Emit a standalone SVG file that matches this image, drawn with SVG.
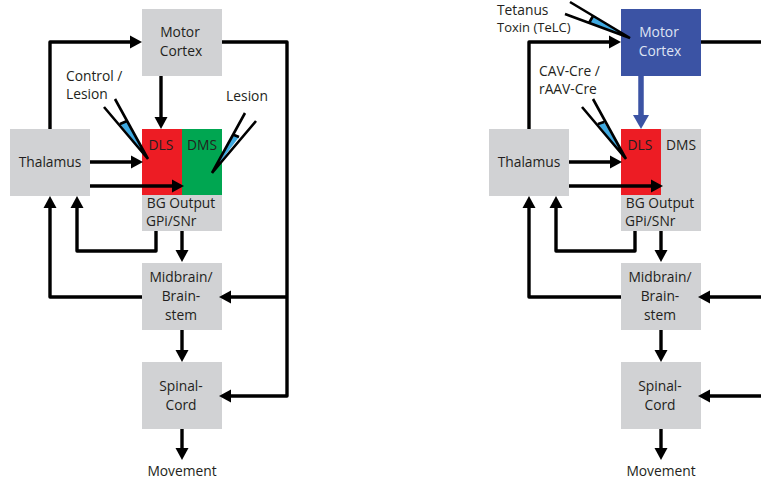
<svg xmlns="http://www.w3.org/2000/svg" width="761" height="480" viewBox="0 0 761 480">
<style>
text{font-family:"Open Sans","Noto Sans","Liberation Sans",sans-serif;font-size:13.8px;fill:#231f20;text-anchor:middle}
.l{text-anchor:start}
.box{fill:#d1d2d4}
.c{fill:none;stroke:#000;stroke-width:3.4;stroke-linejoin:round}
.a{fill:#000}
.n{fill:none;stroke:#000;stroke-width:2.6}
.b{fill:#3fa9e0}
</style>
<defs>
<path id="R" class="a" d="M0 0L-12 -6.5V6.5Z"/>
<path id="L" class="a" d="M0 0L12 -6.5V6.5Z"/>
<path id="U" class="a" d="M0 0L-6.5 12H6.5Z"/>
<path id="D" class="a" d="M0 0L-6.5 -12H6.5Z"/>
</defs>
<rect width="761" height="480" fill="#fff"/>
<g id="left-motor-cortex"><rect class="box" x="142" y="9" width="80" height="67"/><text x="180" y="37">Motor</text><text x="181" y="56">Cortex</text></g>
<g id="left-thalamus"><rect class="box" x="10" y="129" width="80" height="67"/><text x="50" y="167">Thalamus</text></g>
<g id="left-bg"><rect class="box" x="142" y="195" width="80" height="36"/><text x="181" y="208">BG Output</text><text class="l" x="146" y="226">GPi/SNr</text></g>
<g id="left-dls"><rect x="142" y="129" width="40" height="66" fill="#ed1c24"/><text x="161" y="150">DLS</text></g>
<g id="left-dms"><rect x="182" y="129" width="40" height="66" fill="#00a651"/><text x="202" y="150">DMS</text></g>
<g id="left-midbrain"><rect class="box" x="142" y="263" width="80" height="67"/><text x="181" y="282">Midbrain/</text><text x="181" y="301">Brain-</text><text x="181" y="320">stem</text></g>
<g id="left-spinal"><rect class="box" x="142" y="362" width="80" height="67"/><text x="181" y="391">Spinal-</text><text x="181" y="410">Cord</text></g>
<g id="left-movement"><text x="182" y="475.5">Movement</text></g>
<g id="left-control-lesion"><text class="l" x="66" y="81">Control /</text><text class="l" x="66" y="99">Lesion</text>
<path class="b" d="M120 124L127 121L148 159Z"/><path class="n" d="M104 107L148 159L115 99M120 124L127 121"/></g>
<g id="left-lesion"><text x="247" y="101">Lesion</text>
<path class="b" d="M234 135L239 137L212 173Z"/><path class="n" d="M245 113L212 173L256 121M234 135L239 137"/></g>

<g id="right-motor-cortex"><rect x="621" y="9" width="80" height="67" fill="#3b53a4"/><text x="659" y="37" style="fill:#dfe4f3">Motor</text><text x="660" y="56" style="fill:#dfe4f3">Cortex</text></g>
<g id="right-thalamus"><rect class="box" x="489" y="129" width="80" height="67"/><text x="529" y="167">Thalamus</text></g>
<g id="right-bg-dms"><rect class="box" x="621" y="129" width="80" height="102"/><text x="681" y="150">DMS</text><text x="660" y="208">BG Output</text><text class="l" x="625" y="226">GPi/SNr</text></g>
<g id="right-dls"><rect x="621" y="129" width="40" height="66" fill="#ed1c24"/><text x="640" y="150">DLS</text></g>
<g id="right-midbrain"><rect class="box" x="621" y="263" width="80" height="67"/><text x="660" y="282">Midbrain/</text><text x="660" y="301">Brain-</text><text x="660" y="320">stem</text></g>
<g id="right-spinal"><rect class="box" x="621" y="362" width="80" height="67"/><text x="660" y="391">Spinal-</text><text x="660" y="410">Cord</text></g>
<g id="right-movement"><text x="661" y="475.5">Movement</text></g>
<g id="right-telc"><text class="l" x="497" y="15">Tetanus</text><text class="l" x="497" y="32" style="font-size:13px">Toxin (TeLC)</text>
<path class="b" d="M589 23L593 16L630 38Z"/><path class="n" d="M570 2L630 38L565 14M589 23L593 16"/></g>
<g id="right-cre"><text class="l" x="539" y="76">CAV-Cre /</text><text class="l" x="539" y="94">rAAV-Cre</text>
<path class="b" d="M598 124L604 122L626 159Z"/><path class="n" d="M582 107L626 159L593 99M598 124L604 122"/></g>

<g id="connectors">
<path class="c" d="M50 129V42H132"/><use href="#R" x="142" y="42"/>
<path class="c" d="M222 42H287V396H228M287 297H228"/><use href="#L" x="219" y="396"/><use href="#L" x="219" y="297"/>
<path class="c" d="M161 76V120"/><use href="#D" x="161" y="129"/>
<path class="c" d="M90 162H134"/><use href="#R" x="143" y="162"/>
<path class="c" d="M90 186H175"/><use href="#R" x="184" y="186"/>
<path class="c" d="M156 231V251H77V205"/><use href="#U" x="77" y="196"/>
<path class="c" d="M142 297H50V205"/><use href="#U" x="50" y="196"/>
<path class="c" d="M182 231V253"/><use href="#D" x="182" y="262"/>
<path class="c" d="M182 330V353"/><use href="#D" x="182" y="362"/>
<path class="c" d="M182 429V451"/><use href="#D" x="182" y="460"/>

<path class="c" d="M529 129V42H611"/><use href="#R" x="621" y="42"/>
<path class="c" d="M701 42H761M761 297H707M761 396H707"/><use href="#L" x="698" y="297"/><use href="#L" x="698" y="396"/>
<path d="M641 76V116" fill="none" stroke="#3b53a4" stroke-width="5.5"/><path d="M641 129L633 115H649Z" fill="#3b53a4"/>
<path class="c" d="M569 162H613"/><use href="#R" x="622" y="162"/>
<path class="c" d="M569 186H654"/><use href="#R" x="663" y="186"/>
<path class="c" d="M635 231V251H556V205"/><use href="#U" x="556" y="196"/>
<path class="c" d="M621 297H529V205"/><use href="#U" x="529" y="196"/>
<path class="c" d="M661 231V253"/><use href="#D" x="661" y="262"/>
<path class="c" d="M661 330V353"/><use href="#D" x="661" y="362"/>
<path class="c" d="M661 429V451"/><use href="#D" x="661" y="460"/>
</g>
</svg>
